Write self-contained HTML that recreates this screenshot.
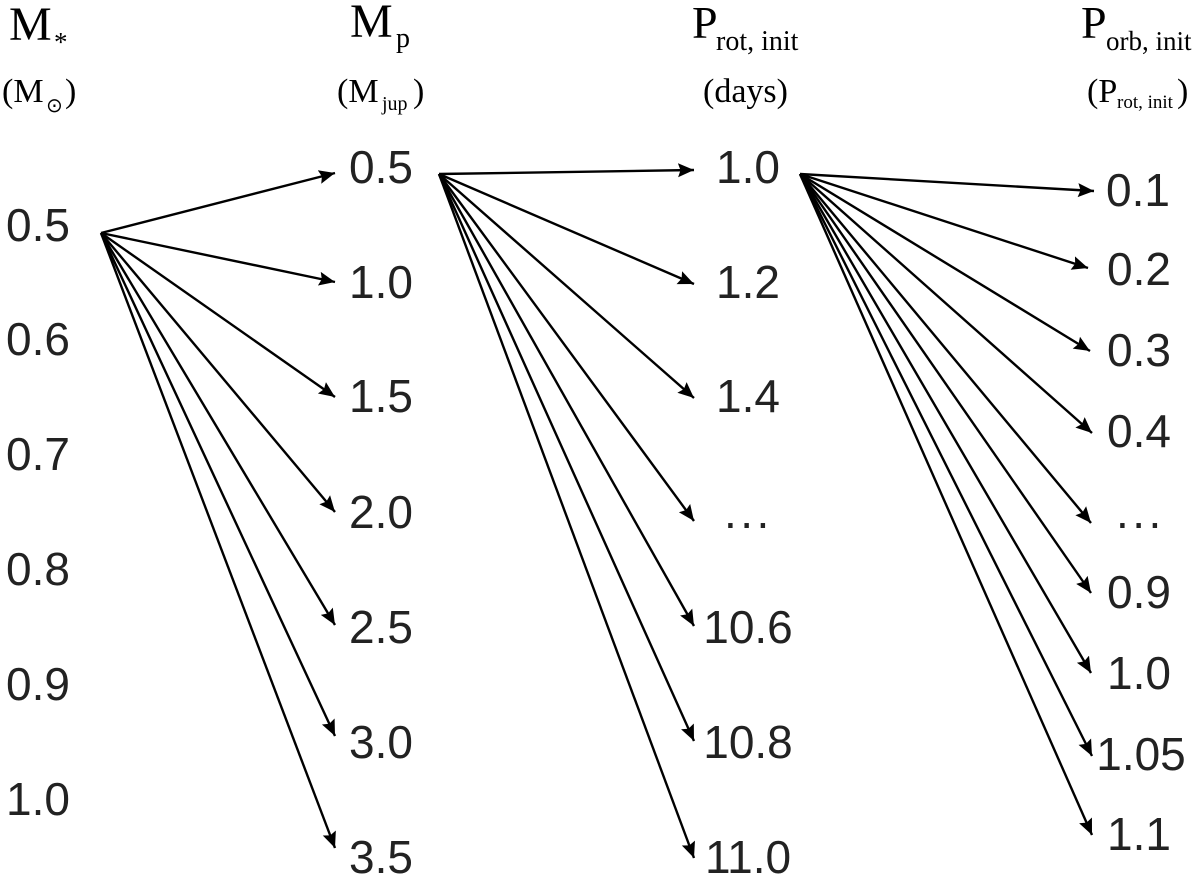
<!DOCTYPE html>
<html><head><meta charset="utf-8"><style>
html,body{margin:0;padding:0;background:#fff}
svg{display:block}
.n{font-family:"Liberation Sans",sans-serif;font-size:46px;fill:#222;text-anchor:middle}
.d{font-family:"Liberation Sans",sans-serif;font-size:46px;fill:#222;letter-spacing:3.5px}
.h{font-family:"Liberation Serif",serif;fill:#000}
line{stroke:#000;stroke-width:2.4;marker-end:url(#a)}
</style></head><body>
<svg width="1200" height="882" viewBox="0 0 1200 882" xmlns="http://www.w3.org/2000/svg">
<defs><marker id="a" markerUnits="userSpaceOnUse" markerWidth="17" markerHeight="15" refX="16" refY="7.5" orient="auto"><path d="M0 0.5L16 7.5L0 14.5L2.5 7.5Z" fill="#000"/></marker></defs>

<text x="9" y="40" font-size="48" class="h">M</text><text x="54" y="51" font-size="27" class="h">*</text>
<text x="2" y="102" font-size="34" class="h">(M</text><text x="46" y="112" font-size="20" font-family="DejaVu Sans">⊙</text><text x="65" y="102" font-size="34" class="h">)</text>
<text x="350" y="37" font-size="48" class="h">M</text><text x="396" y="47" font-size="28" class="h">p</text>
<text x="337" y="102" font-size="34" class="h">(M</text><text x="382" y="110" font-size="20" class="h">jup</text><text x="413" y="102" font-size="34" class="h">)</text>
<text x="692" y="38" font-size="46" class="h">P</text><text x="716" y="50" font-size="28" class="h">rot, init</text>
<text x="703" y="102" font-size="34" class="h">(days)</text>
<text x="1081" y="38" font-size="46" class="h">P</text><text x="1106" y="50" font-size="27" class="h">orb, init</text>
<text x="1087" y="102" font-size="34" class="h">(P</text><text x="1117" y="108" font-size="19" class="h">rot, init</text><text x="1177" y="102" font-size="34" class="h">)</text>

<g class="n">
<text x="38" y="241">0.5</text><text x="38" y="355">0.6</text><text x="38" y="470">0.7</text><text x="38" y="585">0.8</text><text x="38" y="700">0.9</text><text x="38" y="815">1.0</text>
<text x="381" y="183">0.5</text><text x="381" y="298">1.0</text><text x="381" y="412">1.5</text><text x="381" y="528">2.0</text><text x="381" y="643">2.5</text><text x="381" y="758">3.0</text><text x="381" y="873">3.5</text>
<text x="748" y="183">1.0</text><text x="748" y="298">1.2</text><text x="748" y="412">1.4</text><text x="748" y="643">10.6</text><text x="748" y="758">10.8</text><text x="748" y="873">11.0</text>
<text x="1138" y="206">0.1</text><text x="1139" y="285">0.2</text><text x="1139" y="366">0.3</text><text x="1139" y="447">0.4</text><text x="1139" y="608">0.9</text><text x="1139" y="689">1.0</text><text x="1141" y="770">1.05</text><text x="1139" y="850">1.1</text>
</g>
<text class="d" x="724" y="528">...</text>
<text class="d" x="1116" y="528">...</text>

<line x1="101" y1="233" x2="335" y2="173"/><line x1="101" y1="233" x2="335" y2="282"/><line x1="101" y1="233" x2="335" y2="397"/><line x1="101" y1="233" x2="335" y2="512"/><line x1="101" y1="233" x2="335" y2="625"/><line x1="101" y1="233" x2="335" y2="736"/><line x1="101" y1="233" x2="335" y2="848"/>

<line x1="439" y1="174" x2="694" y2="170"/><line x1="439" y1="174" x2="694" y2="284"/><line x1="439" y1="174" x2="694" y2="398"/><line x1="439" y1="174" x2="694" y2="521"/><line x1="439" y1="174" x2="694" y2="626"/><line x1="439" y1="174" x2="694" y2="741"/><line x1="439" y1="174" x2="694" y2="858"/>

<line x1="800" y1="174" x2="1094" y2="191"/><line x1="800" y1="174" x2="1088" y2="268"/><line x1="800" y1="174" x2="1090" y2="351"/><line x1="800" y1="174" x2="1092" y2="433"/><line x1="800" y1="174" x2="1091" y2="523"/><line x1="800" y1="174" x2="1091" y2="593"/><line x1="800" y1="174" x2="1091" y2="673"/><line x1="800" y1="174" x2="1092" y2="756"/><line x1="800" y1="174" x2="1092" y2="835"/>
</svg>
</body></html>
